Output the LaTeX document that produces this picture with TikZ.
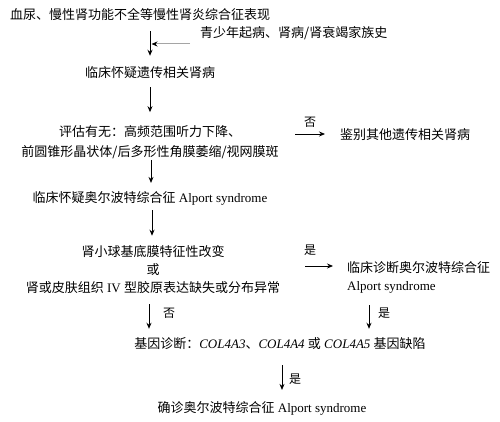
\documentclass[tikz,border=0pt]{standalone}
\usepackage{fontspec}
\setmainfont{Liberation Serif}
\newfontfamily\cjk{Noto Sans CJK SC}
\usetikzlibrary{arrows.meta,calc}
\definecolor{linegray}{RGB}{165,165,165}
\tikzset{
  txt/.style={inner sep=0pt, font=\fontsize{13}{18}\selectfont},
  lbl/.style={inner sep=0pt, font=\cjk\fontsize{12}{14}\selectfont},
  arr/.style={draw=black, line width=0.8pt, -{Stealth[length=6pt,width=5pt]}},
  grayarr/.style={draw=linegray, line width=1pt, -{Stealth[length=6pt,width=5pt,black]}}
}
\begin{document}
\begin{tikzpicture}[x=1pt,y=-1pt]
\useasboundingbox (0,0) rectangle (500,422);
% nodes
\node[txt, anchor=west] (n1) at (10,15) {\cjk 血尿、慢性肾功能不全等慢性肾炎综合征表现};
\node[txt, anchor=west] (fam) at (200,33) {\cjk 青少年起病、肾病/肾衰竭家族史};
\node[txt] (n2) at (150,73) {\cjk 临床怀疑遗传相关肾病};
\node[txt, align=center, font=\fontsize{13}{20}\selectfont] (n3) at (150,142) {\cjk 评估有无：高频范围听力下降、\\\cjk 前圆锥形晶状体/后多形性角膜萎缩/视网膜斑};
\node[txt, anchor=west] (n4) at (340,135) {\cjk 鉴别其他遗传相关肾病};
\node[txt] (n5) at (150,198) {{\cjk 临床怀疑奥尔波特综合征} Alport syndrome};
\node[txt, align=center] (n6) at (153,270) {\cjk 肾小球基底膜特征性改变\\\cjk 或\\{\cjk 肾或皮肤组织} IV {\cjk 型胶原表达缺失或分布异常}};
\node[txt, align=left, anchor=west] (n7) at (347,277) {\cjk 临床诊断奥尔波特综合征\\Alport syndrome};
\node[txt] (n8) at (280,344) {{\cjk 基因诊断：}\textit{COL4A3}{\cjk 、}\textit{COL4A4} {\cjk 或} \textit{COL4A5} {\cjk 基因缺陷}};
\node[txt] (n9) at (262,408) {{\cjk 确诊奥尔波特综合征} Alport syndrome};
% labels
\node[lbl] (l1) at (310,122) {否};
\node[lbl] (l2) at (310,250) {是};
\node[lbl] (l3) at (169,313) {否};
\node[lbl] (l4) at (384,313) {是};
\node[lbl] (l5) at (295,379) {是};
% connectors
\coordinate (famend) at (190,44);
\draw[arr, shorten <=10pt, shorten >=11pt] (n1.south -| n2.north) -- (n2.north);
\draw[grayarr, shorten >=1.5pt] (famend) -- (famend -| n2.north);
\draw[arr, shorten <=8pt, shorten >=13pt] (n2.south) -- (n2.south |- n3.north);
\coordinate (no1) at (295,134);
\draw[arr, shorten >=15pt] (no1) -- (no1 -| n4.west);
\draw[arr, shorten <=1pt, shorten >=8pt] ([xshift=1pt]n3.south) -- ([xshift=1pt]n3.south |- n5.north);
\draw[arr, shorten <=5pt, shorten >=10pt] ([xshift=2pt]n5.south) -- ([xshift=2pt]n5.south |- n6.north);
\coordinate (yes1) at (305,266);
\draw[arr, shorten >=14pt] (yes1) -- (yes1 -| n7.west);
\draw[arr, shorten <=10pt, shorten >=9pt] ([xshift=-4pt]n6.south) -- ([xshift=-4pt]n6.south |- n8.north);
\draw[arr, shorten <=12pt, shorten >=9pt] ([xshift=22pt]n7.south west) -- ([xshift=22pt]n7.south west |- n8.north);
\draw[arr, shorten <=15pt, shorten >=11pt] ([xshift=2pt]n8.south) -- ([xshift=2pt]n8.south |- n9.north);
\end{tikzpicture}
\end{document}
